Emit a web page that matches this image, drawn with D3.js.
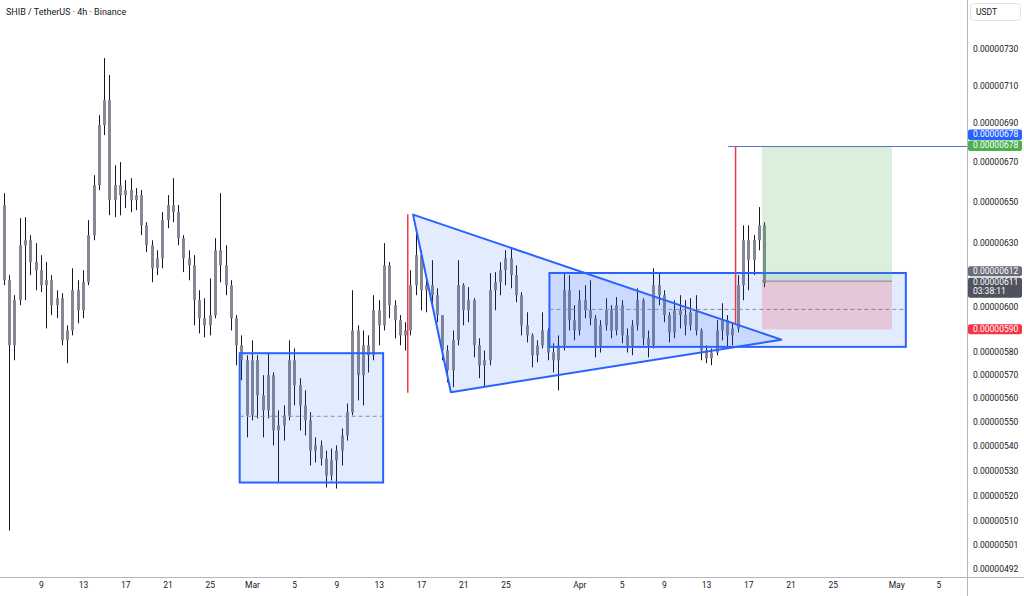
<!DOCTYPE html>
<html>
<head>
<meta charset="utf-8">
<script src="https://cdn.jsdelivr.net/npm/d3@7.9.0/dist/d3.min.js"></script>
<style>
  body { margin: 0; background: #fff; }
  svg { display: block; font-family: Roboto, "Noto Sans", sans-serif; }
</style>
</head>
<body>
<svg id="chart" width="1024" height="596"></svg>
<script>
// prices are in units of 1e-8 USDT, one candle every 12h starting 5 Feb 12:00
const candleStart = new Date(2025, 1, 5, 12);

const candleOpen = [
  648.4, 612.4, 582.9, 603.2, 628.9, 631.3, 620.9, 617.1, 610.1, 612.4,
  600.9, 604.1, 585.1, 589.5, 607.8, 598.6, 611.5, 633.7, 658.3, 689.0,
  702.2, 650.8, 658.3, 653.3, 655.8, 650.8, 653.3, 638.5, 628.9, 618.0,
  622.7, 641.0, 648.4, 644.9, 632.3, 622.7, 619.4, 603.2, 595.0, 591.8,
  596.4, 626.5, 619.4, 610.1, 595.0, 582.9, 576.3, 552.7, 576.3, 561.2,
  554.8, 569.8, 546.4, 548.5, 552.7, 576.3, 565.5, 556.9, 550.6, 538.1,
  540.2, 534.9, 528.0, 534.1, 538.1, 544.3, 554.0, 589.5, 569.8, 582.9,
  578.5, 598.6, 591.8, 619.4, 600.9, 594.1, 587.3, 589.5, 610.1, 624.2,
  607.8, 610.1, 605.5, 596.4, 580.6, 571.9, 585.1, 610.1, 598.6, 603.2,
  582.9, 574.1, 576.3, 607.8, 611.5, 617.1, 622.7, 614.8, 605.5, 591.8,
  587.3, 578.5, 582.9, 589.5, 579.7, 576.3, 582.9, 607.8, 594.1, 589.5,
  603.2, 598.6, 595.0, 582.9, 591.8, 598.6, 589.5, 600.9, 587.3, 582.9,
  591.8, 603.2, 586.0, 582.9, 610.1, 605.5, 596.4, 588.6, 598.6, 596.4,
  591.8, 597.7, 589.5, 580.6, 577.2, 579.7, 589.5, 594.1, 587.3, 590.4,
  610.1, 631.3, 621.8, 631.3, 638.5
];
const candleHigh = [
  654.3, 614.8, 605.5, 642.0, 642.5, 633.7, 629.9, 624.2, 620.9, 614.8,
  607.8, 606.4, 591.8, 618.0, 612.4, 617.1, 641.0, 663.3, 694.2, 725.0,
  715.7, 668.3, 669.9, 660.8, 661.8, 656.8, 655.8, 640.0, 631.3, 626.5,
  644.9, 653.3, 661.8, 648.4, 633.7, 626.5, 624.2, 607.8, 604.1, 613.3,
  632.3, 654.3, 628.9, 612.4, 596.4, 587.3, 578.5, 585.1, 578.5, 569.8,
  579.7, 571.0, 554.8, 556.9, 585.1, 581.5, 568.5, 563.3, 554.0, 543.5,
  542.2, 538.1, 538.9, 540.2, 547.2, 557.7, 607.8, 591.8, 589.5, 587.3,
  605.5, 603.2, 629.9, 620.9, 603.2, 596.4, 593.2, 617.1, 637.1, 626.5,
  614.8, 621.8, 608.7, 596.4, 582.9, 589.5, 621.8, 611.0, 609.2, 604.1,
  586.0, 580.6, 615.7, 616.2, 620.9, 626.5, 627.9, 619.4, 606.9, 597.7,
  588.2, 585.1, 597.7, 590.4, 583.8, 587.3, 615.7, 614.8, 600.9, 607.8,
  610.1, 612.4, 596.4, 594.1, 604.1, 600.9, 604.6, 603.2, 590.4, 594.1,
  608.7, 604.1, 589.5, 618.0, 616.2, 607.8, 597.7, 603.2, 605.5, 603.2,
  604.1, 605.5, 590.4, 582.9, 581.5, 594.1, 601.8, 596.4, 593.2, 614.8,
  638.5, 638.5, 633.7, 647.4, 640.0
];
const candleLow = [
  610.1, 506.4, 576.3, 600.9, 603.2, 614.8, 607.8, 606.9, 590.4, 596.4,
  595.0, 582.9, 575.0, 587.3, 592.7, 595.0, 610.1, 631.3, 655.8, 683.8,
  643.4, 642.5, 643.4, 646.9, 644.9, 645.9, 633.7, 625.6, 611.5, 614.8,
  618.0, 637.1, 640.0, 628.9, 616.2, 612.4, 591.8, 588.2, 586.4, 587.3,
  595.0, 611.5, 605.5, 589.5, 574.1, 567.6, 543.5, 550.6, 551.4, 543.5,
  551.4, 540.2, 525.2, 542.2, 550.6, 556.9, 546.4, 544.3, 532.0, 533.3,
  532.0, 523.2, 526.0, 522.8, 532.0, 542.2, 552.7, 559.0, 556.9, 571.0,
  576.3, 582.9, 589.5, 595.0, 586.0, 582.9, 580.6, 587.3, 605.5, 598.6,
  597.7, 600.9, 593.2, 576.3, 566.7, 564.6, 582.9, 591.8, 593.2, 577.6,
  568.5, 564.6, 574.1, 598.6, 605.5, 610.1, 608.7, 602.3, 587.3, 584.2,
  573.2, 575.4, 581.5, 576.3, 571.0, 563.3, 580.6, 589.5, 585.1, 587.3,
  595.0, 591.8, 577.6, 579.7, 589.5, 586.0, 587.3, 583.8, 579.7, 578.5,
  589.5, 582.9, 577.6, 581.5, 600.9, 593.2, 584.2, 586.0, 590.4, 587.3,
  589.5, 587.3, 576.3, 575.0, 574.1, 578.5, 585.1, 581.9, 582.9, 588.6,
  603.2, 607.8, 614.8, 626.5, 609.2
];
const candleClose = [
  612.4, 582.9, 603.2, 628.9, 631.3, 620.9, 617.1, 610.1, 612.4, 600.9,
  604.1, 585.1, 589.5, 607.8, 598.6, 611.5, 633.7, 658.3, 689.0, 702.2,
  650.8, 658.3, 653.3, 655.8, 650.8, 653.3, 638.5, 628.9, 618.0, 622.7,
  641.0, 648.4, 644.9, 632.3, 622.7, 619.4, 603.2, 595.0, 591.8, 596.4,
  626.5, 619.4, 610.1, 595.0, 582.9, 576.3, 552.7, 576.3, 561.2, 554.8,
  569.8, 546.4, 548.5, 552.7, 576.3, 565.5, 556.9, 550.6, 538.1, 540.2,
  534.9, 528.0, 534.1, 538.1, 544.3, 554.0, 589.5, 569.8, 582.9, 578.5,
  598.6, 591.8, 619.4, 600.9, 594.1, 587.3, 589.5, 610.1, 624.2, 607.8,
  610.1, 605.5, 596.4, 580.6, 571.9, 585.1, 610.1, 598.6, 603.2, 582.9,
  574.1, 576.3, 607.8, 611.5, 617.1, 622.7, 614.8, 605.5, 591.8, 587.3,
  578.5, 582.9, 589.5, 579.7, 576.3, 582.9, 607.8, 594.1, 589.5, 603.2,
  598.6, 595.0, 582.9, 591.8, 598.6, 589.5, 600.9, 587.3, 582.9, 591.8,
  603.2, 586.0, 582.9, 610.1, 605.5, 596.4, 588.6, 598.6, 596.4, 591.8,
  597.7, 589.5, 580.6, 577.2, 579.7, 589.5, 594.1, 587.3, 590.4, 610.1,
  631.3, 621.8, 631.3, 638.5, 611.0
];

const priceTicks = [730, 710, 690, 670, 650, 630, 600, 580, 570, 560, 550, 540, 530, 520, 510, 501, 492];
const timeTicks = [
  "2025-02-09", "2025-02-13", "2025-02-17", "2025-02-21", "2025-02-25",
  "2025-03-01", "2025-03-05", "2025-03-09", "2025-03-13", "2025-03-17", "2025-03-21", "2025-03-25",
  "2025-04-01", "2025-04-05", "2025-04-09", "2025-04-13", "2025-04-17", "2025-04-21", "2025-04-25",
  "2025-05-01", "2025-05-05"
];

// drawings (time, price)
const rangeBox1 = { from: "2025-02-27T20:00", to: "2025-03-13T10:00", top: 579.4, bottom: 525.2 };
const rangeBox2 = { from: "2025-03-29T04:00", to: "2025-05-01T22:00", top: 615.8, bottom: 582.2 };
const triangle = [["2025-03-16T06:00", 643.7], ["2025-03-19T20:00", 562.5], ["2025-04-20T03:00", 585.4]];
const redMarks = [["2025-03-15T18:00", 643.9, 562.3], ["2025-04-15T19:00", 678.0, 592.7]];
const targetLine = { from: "2025-04-15T02:00", price: 678.0 };
const longPos = { from: "2025-04-18T07:00", to: "2025-04-30T14:30", entry: 612, target: 678, stop: 590 };
const lastPrice = 611;
const countdown = "03:38:11";

const W = 1024, H = 596;
const plotRight = 967, plotBottom = 577;
const parse = d3.timeParse("%Y-%m-%dT%H:%M");
const parseDay = d3.timeParse("%Y-%m-%d");
const E = 1e-8;

const svg = d3.select("#chart");
svg.append("rect").attr("width", W).attr("height", H).attr("fill", "#fff");

const xScale = d3.scaleTime()
  .domain([new Date(2025, 1, 5, 3, 15), new Date(2025, 4, 7, 17, 0)])
  .range([0, plotRight]);

const yScale = d3.scaleLog()
  .domain([492 * E, 730 * E])
  .range([568.5, 49]);

const candles = candleClose.map((c, i) => ({
  date: d3.timeHour.offset(candleStart, 12 * i),
  open: candleOpen[i] * E,
  high: candleHigh[i] * E,
  low: candleLow[i] * E,
  close: c * E
}));

svg.append("clipPath").attr("id", "plotclip")
  .append("rect").attr("width", plotRight).attr("height", plotBottom);

const plot = svg.append("g").attr("clip-path", "url(#plotclip)");

// candles
const cg = plot.append("g");
cg.selectAll("line")
  .data(candles)
  .join("line")
  .attr("x1", d => Math.round(xScale(d.date)) + 0.5)
  .attr("x2", d => Math.round(xScale(d.date)) + 0.5)
  .attr("y1", d => yScale(d.high))
  .attr("y2", d => yScale(d.low))
  .attr("stroke", "#131722")
  .attr("stroke-width", 1);
cg.selectAll("rect")
  .data(candles)
  .join("rect")
  .attr("x", d => Math.round(xScale(d.date)) - 1)
  .attr("width", 3)
  .attr("y", d => yScale(Math.max(d.open, d.close)))
  .attr("height", d => Math.max(1, Math.abs(yScale(d.open) - yScale(d.close))))
  .attr("fill", "#868993");

// blue drawings
const blueFill = "rgba(41,98,255,0.13)";
const blue = "#2962ff";

function drawBox(b) {
  const x0 = xScale(parse(b.from)), x1 = xScale(parse(b.to));
  const y0 = yScale(b.top * E), y1 = yScale(b.bottom * E);
  plot.append("rect")
    .attr("x", x0).attr("y", y0)
    .attr("width", x1 - x0).attr("height", y1 - y0)
    .attr("fill", blueFill)
    .attr("stroke", blue).attr("stroke-width", 2);
  const mid = yScale((b.top + b.bottom) / 2 * E);
  plot.append("line")
    .attr("x1", x0).attr("x2", x1).attr("y1", mid).attr("y2", mid)
    .attr("stroke", "#8a8d96").attr("stroke-width", 1)
    .attr("stroke-dasharray", "4,3");
}
drawBox(rangeBox1);

plot.append("path")
  .attr("d", d3.line()(triangle.map(([t, p]) => [xScale(parse(t)), yScale(p * E)])) + "Z")
  .attr("fill", blueFill)
  .attr("stroke", blue).attr("stroke-width", 2)
  .attr("stroke-linejoin", "round");

drawBox(rangeBox2);

// long position
const px0 = xScale(parse(longPos.from)), px1 = xScale(parse(longPos.to));
plot.append("rect")
  .attr("x", px0).attr("width", px1 - px0)
  .attr("y", yScale(longPos.target * E))
  .attr("height", yScale(longPos.entry * E) - yScale(longPos.target * E))
  .attr("fill", "rgba(76,175,80,0.2)");
plot.append("rect")
  .attr("x", px0).attr("width", px1 - px0)
  .attr("y", yScale(longPos.entry * E))
  .attr("height", yScale(longPos.stop * E) - yScale(longPos.entry * E))
  .attr("fill", "rgba(242,54,69,0.2)");
plot.append("line")
  .attr("x1", px0).attr("x2", px1)
  .attr("y1", yScale(longPos.entry * E)).attr("y2", yScale(longPos.entry * E))
  .attr("stroke", "#8a7f86").attr("stroke-width", 1);

// target line and red markers
plot.append("line")
  .attr("x1", xScale(parse(targetLine.from))).attr("x2", plotRight)
  .attr("y1", Math.round(yScale(targetLine.price * E)) + 0.5)
  .attr("y2", Math.round(yScale(targetLine.price * E)) + 0.5)
  .attr("stroke", "#5b6fd6").attr("stroke-width", 1);

plot.selectAll(".redmark")
  .data(redMarks)
  .join("line")
  .attr("class", "redmark")
  .attr("x1", d => xScale(parse(d[0])))
  .attr("x2", d => xScale(parse(d[0])))
  .attr("y1", d => yScale(d[1] * E))
  .attr("y2", d => yScale(d[2] * E))
  .attr("stroke", "#f23645").attr("stroke-width", 1.5);

// axes frame
svg.append("line").attr("x1", plotRight + 0.5).attr("x2", plotRight + 0.5)
  .attr("y1", 0).attr("y2", H).attr("stroke", "#b2b5be");
svg.append("line").attr("x1", 0).attr("x2", W)
  .attr("y1", plotBottom + 0.5).attr("y2", plotBottom + 0.5).attr("stroke", "#b2b5be");

// price axis
const fmt = d3.format(".8f");
const yAxis = svg.append("g")
  .attr("transform", `translate(${plotRight},0)`)
  .call(d3.axisRight(yScale).tickValues(priceTicks.map(v => v * E)).tickFormat(fmt).tickSize(0).tickPadding(6));
yAxis.select(".domain").remove();
yAxis.selectAll("text").attr("fill", "#131722").attr("font-size", 8.5).attr("font-family", "Roboto, sans-serif");

// time axis
const monthName = d3.timeFormat("%b");
const xAxis = svg.append("g")
  .attr("transform", `translate(0,${plotBottom})`)
  .call(d3.axisBottom(xScale)
    .tickValues(timeTicks.map(parseDay))
    .tickFormat(d => d.getDate() === 1 ? monthName(d) : d.getDate())
    .tickSize(0).tickPadding(5));
xAxis.select(".domain").remove();
xAxis.selectAll("text").attr("fill", "#131722").attr("font-size", 8.5).attr("font-family", "Roboto, sans-serif");

// axis badges
function badge(cy, h, color, lines) {
  svg.append("rect")
    .attr("x", plotRight + 1).attr("y", cy - h / 2)
    .attr("width", 54).attr("height", h).attr("rx", 2)
    .attr("fill", color);
  lines.forEach((t, i) => {
    svg.append("text")
      .attr("x", plotRight + 6)
      .attr("y", cy - h / 2 + 7.5 + i * 9)
      .attr("fill", "#fff").attr("font-size", 8.5)
      .text(t);
  });
}
const yT = yScale(longPos.target * E);
badge(yT - 11.5, 10.5, "#2962ff", [fmt(longPos.target * E)]);
badge(yT - 0.5, 10.5, "#4caf50", [fmt(longPos.target * E)]);
const yL = yScale(lastPrice * E);
badge(yL - 12, 10, "#6a6d78", [fmt(longPos.entry * E)]);
badge(yL + 4.5, 20, "#50535e", [fmt(lastPrice * E), countdown]);
badge(yScale(longPos.stop * E), 10, "#f23645", [fmt(longPos.stop * E)]);

// currency box
svg.append("rect")
  .attr("x", plotRight + 3.5).attr("y", 3.5)
  .attr("width", 50).attr("height", 17).attr("rx", 3)
  .attr("fill", "#fff").attr("stroke", "#e0e3eb");
svg.append("text")
  .attr("x", plotRight + 9).attr("y", 15)
  .attr("fill", "#131722").attr("font-size", 8.5)
  .text("USDT");

// title
svg.append("text")
  .attr("x", 6).attr("y", 15)
  .attr("fill", "#131722").attr("font-size", 9)
  .text("SHIB / TetherUS · 4h · Binance");
</script>
</body>
</html>
